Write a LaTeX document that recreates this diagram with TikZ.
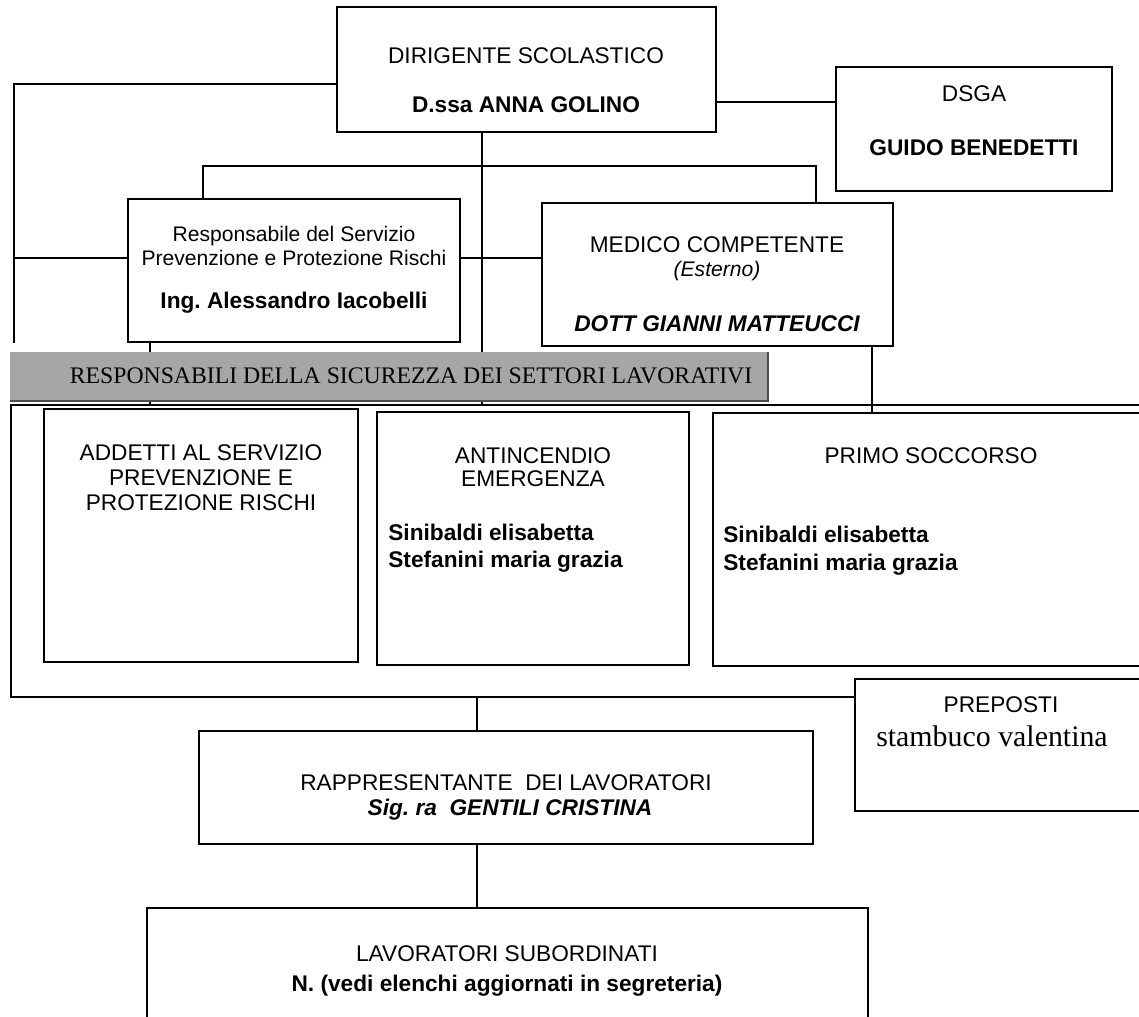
\documentclass[tikz,border=0pt]{standalone}
\usepackage{fontspec}
\setmainfont{Liberation Sans}
\newfontfamily\timesfont{Liberation Serif}
\usetikzlibrary{fit}
\frenchspacing

\begin{document}
\begin{tikzpicture}[x=0.02cm, y=-0.02cm,
    box/.style={draw, line width=0.9pt, inner sep=0pt},
    conn/.style={line width=0.7pt},
    lbl/.style={inner sep=0pt, text height=0.33cm, text depth=0pt, font=\fontsize{12.9}{15}\selectfont},
    lblsm/.style={lbl, font=\fontsize{12}{14}\selectfont}]
  \useasboundingbox (0,0) rectangle (1139,1017);
  \clip (0,0) rectangle (1139,1017);

  % caselle
  \node[box, fit={(337,7) (716,132)}] (dir) {};
  \node[box, fit={(836,67) (1112,191)}] (dsga) {};
  \node[box, fit={(128,199) (460,342)}] (rspp) {};
  \node[box, fit={(542,203) (893,346)}] (med) {};
  \node[box, fit={(44,409) (358,662)}] (add) {};
  \node[box, fit={(377,412) (689,665)}] (ant) {};
  \node[box, fit={(713,413) (1160,666)}] (primo) {};
  \node[box, fit={(855,679) (1160,811)}] (prep) {};
  \node[box, fit={(199,731) (813,844)}] (rapp) {};
  \node[box, fit={(147,908) (868,1040)}] (lav) {};

  \coordinate (lt) at (14,84); \coordinate (lb) at (14,343); \coordinate (hy) at (14,258);
  \coordinate (k1) at (776,102); \coordinate (dv) at (482,405);
  \coordinate (br1) at (203,166); \coordinate (br2) at (816,166);
  \coordinate (rt) at (150,405); \coordinate (mv) at (872,380);
  \coordinate (f1) at (1160,405); \coordinate (f2) at (11,405); \coordinate (f3) at (11,697);
  \coordinate (rv) at (477,697);

  % linee
  \begin{scope}[conn]
    \draw (dir.west |- lt) -- (lt) -- (lb);
    \draw (dir.east |- k1) -- (dsga.west |- k1);
    \draw (dir.south -| dv) -- (dv);
    \draw (rspp.north -| br1) -- (br1) -- (br2) -- (med.north -| br2);
    \draw (hy) -- (rspp.west |- hy);
    \draw (rspp.east |- hy) -- (med.west |- hy);
    \draw (rspp.south -| rt) -- (rt);
    \draw (med.south -| mv) -- (primo.north -| mv);
    \draw (f1) -- (f2) -- (f3) -- (prep.west |- f3);
    \draw (rv) -- (rapp.north -| rv);
    \draw (rapp.south -| rv) -- (lav.north -| rv);
  \end{scope}

  % fascia
  \node[fill=black!35, inner sep=0pt, fit={(10,352) (768,401)}] (band) {};
  \draw[line width=1pt, black!70] (band.north east) -- (band.south east) -- (band.south west);
  \node[lbl, font=\timesfont\fontsize{13.5}{15}\selectfont, text height=0.31cm] (bandT) at (411,376) {RESPONSABILI DELLA SICUREZZA DEI SETTORI LAVORATIVI};

  % testi
  \node[lbl] (dirA) at (526,55) {DIRIGENTE SCOLASTICO};
  \node[lbl] (dirB) at (526,104) {\bfseries D.ssa ANNA GOLINO};
  \node[lbl] (dsgaA) at (974,93) {DSGA};
  \node[lbl] (dsgaB) at (974,147) {\bfseries GUIDO BENEDETTI};
  \node[lblsm] (rsppA) at (294,233) {Responsabile del Servizio};
  \node[lblsm] (rsppB) at (294,257) {Prevenzione e Protezione Rischi};
  \node[lbl] (rsppC) at (294,300) {\bfseries Ing. Alessandro Iacobelli};
  \node[lbl] (medA) at (717,244) {MEDICO COMPETENTE};
  \node[lblsm] (medB) at (717,268) {\itshape (Esterno)};
  \node[lbl] (medC) at (717,323) {\bfseries\itshape DOTT GIANNI MATTEUCCI};
  \node[lbl] (addA) at (201,452) {ADDETTI AL SERVIZIO};
  \node[lbl] (addB) at (201,477) {PREVENZIONE E};
  \node[lbl] (addC) at (201,502) {PROTEZIONE RISCHI};
  \node[lbl] (antA) at (533,455) {ANTINCENDIO};
  \node[lbl] (antB) at (533,478) {EMERGENZA};
  \node[lbl, anchor=west] (antC) at (388,532) {\bfseries Sinibaldi elisabetta};
  \node[lbl, anchor=west] (antD) at (388,559) {\bfseries Stefanini maria grazia};
  \node[lbl] (primoA) at (931,455) {PRIMO SOCCORSO};
  \node[lbl, anchor=west] (primoB) at (723,534) {\bfseries Sinibaldi elisabetta};
  \node[lbl, anchor=west] (primoC) at (723,562) {\bfseries Stefanini maria grazia};
  \node[lbl] (prepA) at (1001,704) {PREPOSTI};
  \node[lbl, font=\timesfont\fontsize{17}{20}\selectfont, text height=0.41cm] (prepB) at (992,736) {stambuco valentina};
  \node[lbl] (rappA) at (506,782) {RAPPRESENTANTE~ DEI LAVORATORI};
  \node[lbl] (rappB) at (510,807) {\bfseries\itshape Sig. ra~ GENTILI CRISTINA};
  \node[lbl] (lavA) at (507,953) {LAVORATORI SUBORDINATI};
  \node[lbl] (lavB) at (507,983) {\bfseries N. (vedi elenchi aggiornati in segreteria)};
\end{tikzpicture}
\end{document}
